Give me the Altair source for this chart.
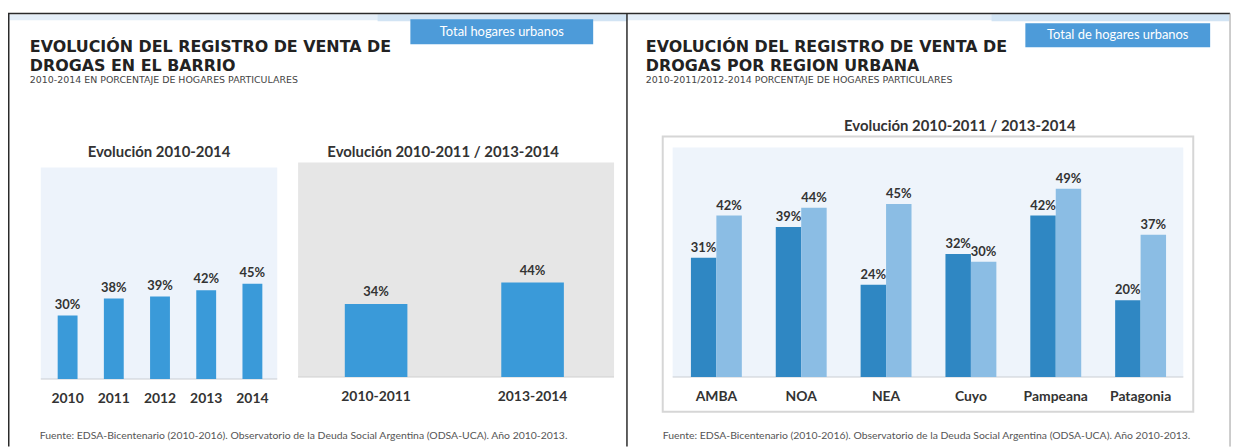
import altair as alt
import pandas as pd

# ---------------- data ----------------
years = ["2010", "2011", "2012", "2013", "2014"]
evol_values = [30, 38, 39, 42, 45]

periods = ["2010-2011", "2013-2014"]
period_values = [34, 44]

regions = ["AMBA", "NOA", "NEA", "Cuyo", "Pampeana", "Patagonia"]
series = ["2010-2011", "2013-2014"]
v_2010_2011 = [31, 39, 24, 32, 42, 20]
v_2013_2014 = [42, 44, 45, 30, 49, 37]

title_left = ["EVOLUCIÓN DEL REGISTRO DE VENTA DE", "DROGAS EN EL BARRIO"]
sub_left = "2010-2014 EN PORCENTAJE DE HOGARES PARTICULARES"
badge_left = "Total hogares urbanos"
title_right = ["EVOLUCIÓN DEL REGISTRO DE VENTA DE", "DROGAS POR REGION URBANA"]
sub_right = "2010-2011/2012-2014 PORCENTAJE DE HOGARES PARTICULARES"
badge_right = "Total de hogares urbanos"
panel_titles = ["Evolución 2010-2014", "Evolución 2010-2011 / 2013-2014",
                "Evolución 2010-2011 / 2013-2014"]
source = ("Fuente: EDSA-Bicentenario (2010-2016). Observatorio de la Deuda Social "
          "Argentina (ODSA-UCA). Año 2010-2013.")

# ---------------- styles ----------------
BLUE = "#3a9ad9"
DARK = "#2f87c3"
LIGHT = "#8bbde4"
TXT = "#333333"
TITLE_FONT = "DejaVu Sans"
FONT = "Lato"

one = pd.DataFrame({"k": [0]})


def rect(x, x2, y, y2, fill, stroke=None, sw=0.0, opacity=1.0):
    kw = dict(fill=fill, opacity=opacity)
    if stroke:
        kw.update(stroke=stroke, strokeWidth=sw)
    return alt.Chart(one).mark_rect(**kw).encode(
        x=alt.value(x), x2=alt.value(x2), y=alt.value(y), y2=alt.value(y2))


def hline(x, x2, y, color, w=1.0):
    return alt.Chart(one).mark_rule(color=color, strokeWidth=w).encode(
        x=alt.value(x), x2=alt.value(x2), y=alt.value(y))


def vline(x, y, y2, color, w=1.0):
    return alt.Chart(one).mark_rule(color=color, strokeWidth=w).encode(
        x=alt.value(x), y=alt.value(y), y2=alt.value(y2))


def txt(s, x, y, size, weight="normal", color=TXT, font=FONT, align="left",
        baseline="alphabetic"):
    return alt.Chart(one).mark_text(
        text=s, font=font, fontSize=size, fontWeight=weight, color=color,
        align=align, baseline=baseline).encode(x=alt.value(x), y=alt.value(y))


# ---------------- decorations (background) ----------------
deco_bg = [
    # light blue strip under top border
    rect(1, 1229, 5, 11, "#e4eef8"),
    rect(372, 623, 5, 12, "#d2e4f4"),
    rect(990, 1229, 5, 12, "#d2e4f4"),
    # slide frames
    hline(0, 1230, 4, "#2a2a2a", 1.5),
    vline(0.75, 4, 440, "#2a2a2a", 1.5),
    vline(623, 4, 440, "#2a2a2a", 1.5),
    vline(1230, 4, 440, "#9a9a9a", 1.0),
    # badges
    rect(405, 589, 10, 35, "#4d9bd9"),
    rect(1024, 1210, 14, 38, "#4d9bd9"),
    # panel backgrounds
    rect(33, 271, 159, 372, "#edf3fb"),
    rect(292, 610, 154, 370, "#e6e6e6"),
    rect(659, 1193, 128, 405, "#ffffff", stroke="#d6d6d6", sw=2),
    rect(669, 1183, 139, 370, "#eef4fb"),
    hline(33, 271, 372, "#c9ced4", 1.2),
    hline(292, 610, 370, "#cfcfcf", 1.2),
    hline(669, 1183, 370, "#c9ced4", 1.2),
]

# ---------------- panel A : evolución 2010-2014 ----------------
dfA = pd.DataFrame({"year": years, "value": evol_values})
xA = alt.X("year:N", axis=None,
           scale=alt.Scale(domain=years, range=[36.75, 269.25],
                           paddingInner=0.57, paddingOuter=0.285))
yA = alt.Y("value:Q", axis=None, scale=alt.Scale(domain=[0, 100], range=[372, 159]))
baseA = alt.Chart(dfA).transform_calculate(label="datum.value + '%'").encode(x=xA)
panelA = alt.layer(
    baseA.mark_bar(color=BLUE).encode(y=yA),
    baseA.mark_text(font=FONT, fontSize=13, fontWeight="bold", color=TXT,
                    baseline="bottom", dy=-4).encode(y=yA, text="label:N"),
    baseA.mark_text(font=FONT, fontSize=14, fontWeight="bold", color=TXT,
                    baseline="middle", dy=20).encode(y=alt.datum(0), text="year:N"),
)

# ---------------- panel B : 2010-2011 / 2013-2014 ----------------
dfB = pd.DataFrame({"period": periods, "value": period_values})
xB = alt.X("period:N", axis=None,
           scale=alt.Scale(domain=periods, range=[291.75, 606.75],
                           paddingInner=0.6, paddingOuter=0.3))
yB = alt.Y("value:Q", axis=None, scale=alt.Scale(domain=[0, 100], range=[370, 154]))
baseB = alt.Chart(dfB).transform_calculate(label="datum.value + '%'").encode(x=xB)
panelB = alt.layer(
    baseB.mark_bar(color=BLUE).encode(y=yB),
    baseB.mark_text(font=FONT, fontSize=13, fontWeight="bold", color=TXT,
                    baseline="bottom", dy=-5).encode(y=yB, text="label:N"),
    baseB.mark_text(font=FONT, fontSize=14, fontWeight="bold", color=TXT,
                    baseline="middle", dy=20).encode(y=alt.datum(0), text="period:N"),
)

# ---------------- panel C : por región ----------------
dfC = pd.DataFrame({
    "region": regions * 2,
    "series": [series[0]] * len(regions) + [series[1]] * len(regions),
    "value": v_2010_2011 + v_2013_2014,
})
xC = alt.X("region:N", axis=None,
           scale=alt.Scale(domain=regions, range=[670.3, 1182.7],
                           paddingInner=0.4, paddingOuter=0.2))
yC = alt.Y("value:Q", axis=None, scale=alt.Scale(domain=[0, 60], range=[370, 137.8]))
oC = alt.XOffset("series:N", scale=alt.Scale(domain=series))
baseC = alt.Chart(dfC).transform_calculate(label="datum.value + '%'").encode(x=xC)
dfCat = pd.DataFrame({"region": regions})
panelC = alt.layer(
    baseC.mark_bar().encode(
        xOffset=oC, y=yC,
        color=alt.Color("series:N", legend=None,
                        scale=alt.Scale(domain=series, range=[DARK, LIGHT]))),
    baseC.mark_text(font=FONT, fontSize=13, fontWeight="bold", color=TXT,
                    baseline="bottom", dy=-3).encode(xOffset=oC, y=yC, text="label:N"),
    alt.Chart(dfCat).mark_text(font=FONT, fontSize=14, fontWeight="bold", color=TXT,
                               baseline="middle", dy=20).encode(
        x=xC, y=alt.datum(0), text="region:N"),
)

# ---------------- decorations (text) ----------------
deco_txt = [
    txt(title_left[0], 22, 43, 16, "bold", "#222222", TITLE_FONT),
    txt(title_left[1], 22, 62, 16, "bold", "#222222", TITLE_FONT),
    txt(sub_left, 22, 74, 9.5, "normal", "#444444", TITLE_FONT),
    txt(title_right[0], 642, 43, 16, "bold", "#222222", TITLE_FONT),
    txt(title_right[1], 642, 62, 16, "bold", "#222222", TITLE_FONT),
    txt(sub_right, 642, 74, 9.5, "normal", "#444444", TITLE_FONT),
    txt(badge_left, 497, 23, 13, "normal", "white", FONT, "center", "middle"),
    txt(badge_right, 1117, 26, 13, "normal", "white", FONT, "center", "middle"),
    txt(panel_titles[0], 152, 144, 15, "bold", TXT, FONT, "center", "middle"),
    txt(panel_titles[1], 438, 144, 15, "bold", TXT, FONT, "center", "middle"),
    txt(panel_titles[2], 958, 117, 15, "bold", TXT, FONT, "center", "middle"),
    txt(source, 32, 429, 10.5, "normal", "#555555", FONT, "left", "middle"),
    txt(source, 659, 429, 10.5, "normal", "#555555", FONT, "left", "middle"),
]

chart = alt.layer(*deco_bg, panelA, panelB, panelC, *deco_txt).resolve_scale(
    x="independent", y="independent", xOffset="independent", color="independent"
).properties(
    width=1233, height=440, padding=0,
    autosize=alt.AutoSizeParams(type="none"),
    background="white",
).configure_view(stroke=None)

chart.save("out.html", embed_options={"renderer": "svg", "actions": False})
